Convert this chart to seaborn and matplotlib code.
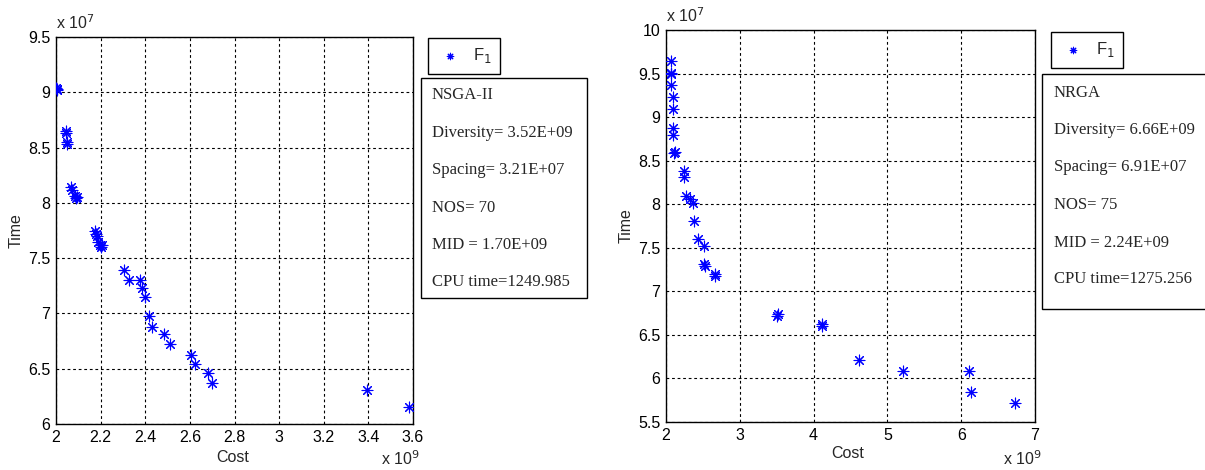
import pandas as pd
import matplotlib
matplotlib.use("Agg")
import matplotlib.pyplot as plt
import seaborn as sns
from matplotlib.patches import Rectangle

# Pareto-Fronten NSGA-II vs. NRGA (Cost in 1e9, Time in 1e7)
nsga_cost = [2.000, 2.003, 2.006, 2.043, 2.045, 2.048, 2.050, 2.066, 2.070, 2.086,
             2.090, 2.095, 2.175, 2.178, 2.182, 2.190, 2.195, 2.200, 2.205, 2.305,
             2.325, 2.375, 2.385, 2.400, 2.415, 2.430, 2.485, 2.510, 2.605, 2.625,
             2.680, 2.700, 3.393, 3.580]
nsga_time = [9.04, 9.02, 9.03, 8.65, 8.63, 8.55, 8.53, 8.14, 8.12, 8.06,
             8.04, 8.05, 7.75, 7.72, 7.70, 7.65, 7.62, 7.60, 7.62, 7.39,
             7.30, 7.30, 7.23, 7.15, 6.98, 6.88, 6.81, 6.72, 6.62, 6.54,
             6.46, 6.37, 6.31, 6.15]

nrga_cost = [2.064, 2.068, 2.072, 2.068, 2.090, 2.090, 2.100, 2.100, 2.110, 2.120,
             2.250, 2.250, 2.270, 2.320, 2.360, 2.380, 2.430, 2.520, 2.520, 2.530,
             2.660, 2.670, 3.520, 3.510, 4.110, 4.120, 4.610, 5.210, 6.110, 6.130,
             6.730]
nrga_time = [9.64, 9.51, 9.50, 9.37, 9.23, 9.09, 8.87, 8.80, 8.59, 8.60,
             8.38, 8.31, 8.09, 8.06, 8.01, 7.81, 7.60, 7.52, 7.31, 7.29,
             7.20, 7.18, 6.74, 6.72, 6.63, 6.60, 6.21, 6.08, 6.08, 5.84,
             5.72]

nsga_stats = ["NSGA-II", "Diversity= 3.52E+09", "Spacing= 3.21E+07", "NOS= 70",
              "MID = 1.70E+09", "CPU time=1249.985"]
nrga_stats = ["NRGA", "Diversity= 6.66E+09", "Spacing= 6.91E+07", "NOS= 75",
              "MID = 2.24E+09", "CPU time=1275.256"]

sns.set_style("white")
plt.rcParams["font.family"] = ["Liberation Sans", "DejaVu Sans"]

W, H = 1205, 470
fig = plt.figure(figsize=(W / 100, H / 100), dpi=100)

panels = [
    dict(cost=nsga_cost, time=nsga_time, stats=nsga_stats,
         ax=(56, 37, 413, 424), xlim=(2, 3.6), xticks=[2 + 0.2 * i for i in range(9)],
         ylim=(6, 9.5), yticks=[6, 6.5, 7, 7.5, 8, 8.5, 9, 9.5],
         leg=(428, 38), box=(421, 78, 587, 298), ty=[95, 133, 170, 208, 245, 282], tx=432,
         cost_xy=(233, 457)),
    dict(cost=nrga_cost, time=nrga_time, stats=nrga_stats,
         ax=(666, 30, 1035, 422), xlim=(2, 7), xticks=[2, 3, 4, 5, 6, 7],
         ylim=(5.5, 10), yticks=[5.5, 6, 6.5, 7, 7.5, 8, 8.5, 9, 9.5, 10],
         leg=(1051, 32), box=(1042, 74, 1215, 309), ty=[93, 130, 167, 205, 243, 279], tx=1054,
         cost_xy=(848, 454)),
]

for p in panels:
    x0, y0, x1, y1 = p["ax"]
    ax = fig.add_axes([x0 / W, 1 - y1 / H, (x1 - x0) / W, (y1 - y0) / H])
    df = pd.DataFrame({"Cost": p["cost"], "Time": p["time"]})
    sns.scatterplot(data=df, x="Cost", y="Time", ax=ax, marker=(8, 2, 0), s=60,
                    color="blue", edgecolor="blue", linewidth=0.8, label="F$_1$",
                    legend=False, zorder=3)
    ax.set_xlim(*p["xlim"])
    ax.set_ylim(*p["ylim"])
    ax.set_xticks(p["xticks"])
    ax.set_yticks(p["yticks"])
    ax.set_xticklabels([f"{v:g}" for v in p["xticks"]])
    ax.set_yticklabels([f"{v:g}" for v in p["yticks"]])
    ax.tick_params(direction="in", length=4, labelsize=11.5, colors="black", pad=4)
    ax.grid(True, color="black", linestyle=(0, (2.5, 2.5)), linewidth=0.8)
    for s in ax.spines.values():
        s.set_color("black")
        s.set_linewidth(1.0)
    ax.set_xlabel("")
    ax.set_ylabel("")
    fig.text(p["cost_xy"][0] / W, 1 - p["cost_xy"][1] / H, "Cost", fontsize=11.5,
             ha="center", va="center")
    fig.text((x0 - 40) / W, 1 - ((y0 + y1) / 2) / H, "Time", fontsize=11.5,
             rotation=90, ha="center", va="center")
    ax.text(0, 1.012, "x 10$^{7}$", transform=ax.transAxes, fontsize=11.5,
            ha="left", va="bottom")
    fig.text((x1 - 32) / W, 1 - 465 / H, "x 10$^{9}$", fontsize=11.5, ha="left",
             va="baseline")

    # Legende
    h, l = ax.get_legend_handles_labels()
    fig.legend(h, l, loc="upper left", bbox_to_anchor=(p["leg"][0] / W, 1 - p["leg"][1] / H),
               frameon=True, fancybox=False, edgecolor="black", framealpha=1,
               fontsize=12, borderaxespad=0, handletextpad=0.6, borderpad=0.5,
               handlelength=1.6, markerscale=0.6)

    # Kennzahlen-Box
    bx0, by0, bx1, by1 = p["box"]
    fig.patches.append(Rectangle((bx0 / W, 1 - by1 / H), (bx1 - bx0) / W, (by1 - by0) / H,
                                 transform=fig.transFigure, facecolor="white",
                                 edgecolor="black", linewidth=1.0))
    for txt, yy in zip(p["stats"], p["ty"]):
        fig.text(p["tx"] / W, 1 - yy / H, txt, fontsize=12, ha="left", va="center",
                 family="Liberation Serif")

fig.savefig("out.png", dpi=100)
